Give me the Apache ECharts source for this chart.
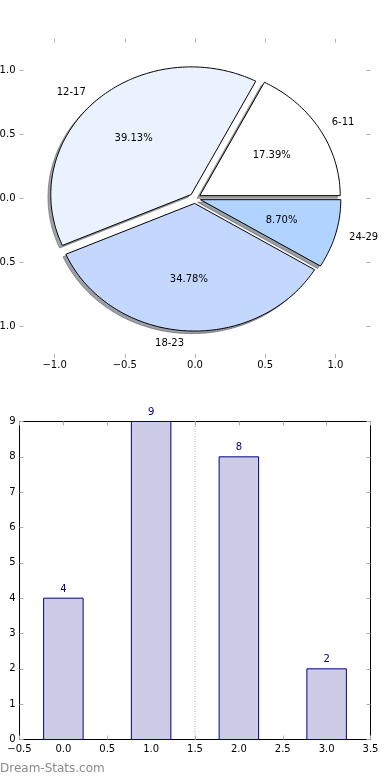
<!DOCTYPE html>
<html>
<head>
<meta charset="utf-8">
<script src="https://cdn.jsdelivr.net/npm/echarts@6/dist/echarts.min.js"></script>
<style>
html,body{margin:0;padding:0;background:#fff;}
#chart{width:390px;height:780px;}
</style>
</head>
<body>
<div id="chart"></div>
<script>
// ---- data ----
const ageGroups = ['6-11', '12-17', '18-23', '24-29'];
const counts = [4, 9, 8, 2];
const pieColors = ['#FFFFFF', '#EBF2FF', '#C4D8FF', '#B0D4FF'];
const barPositions = [0, 1, 2, 3];
const pieTickValues = [-1, -0.5, 0, 0.5, 1];
const dividerX = [1.5];

// ---- helpers ----
const FONT = '"DejaVu Sans", sans-serif';
const total = counts.reduce((a, b) => a + b, 0);
const explode = 0.04;
const fmt1 = v => (v < 0 ? '\u2212' : '') + Math.abs(v).toFixed(1);

function hexToRgb(h) {
  const n = parseInt(h.slice(1), 16);
  return [(n >> 16) & 255, (n >> 8) & 255, n & 255];
}

function renderWedge(params, api) {
  const i = api.value(0);
  let before = 0;
  for (let k = 0; k < i; k++) before += counts[k];
  const t1 = 2 * Math.PI * before / total;
  const t2 = 2 * Math.PI * (before + counts[i]) / total;
  const tm = (t1 + t2) / 2;
  const cx = explode * Math.cos(tm), cy = explode * Math.sin(tm);
  const pts = [], spts = [];
  const steps = Math.max(8, Math.ceil((t2 - t1) / (Math.PI / 180)));
  const ring = [[cx, cy]];
  for (let s = 0; s <= steps; s++) {
    const t = t1 + (t2 - t1) * s / steps;
    ring.push([cx + Math.cos(t), cy + Math.sin(t)]);
  }
  ring.forEach(p => {
    pts.push(api.coord(p));
    spts.push(api.coord([p[0] - 0.02, p[1] - 0.02]));
  });
  const rgb = hexToRgb(pieColors[i]).map(c => Math.round(c * 0.3));
  const shadowCol = 'rgba(' + rgb.join(',') + ',0.5)';
  const lx = cx + 1.1 * Math.cos(tm), ly = cy + 1.1 * Math.sin(tm);
  const px = cx + 0.6 * Math.cos(tm), py = cy + 0.6 * Math.sin(tm);
  const lp = api.coord([lx, ly]);
  const pp = api.coord([px, py]);
  return {
    type: 'group',
    children: [
      { type: 'polygon', z2: 1, shape: { points: spts },
        style: { fill: shadowCol, stroke: shadowCol, lineWidth: 1 } },
      { type: 'polygon', z2: 10, shape: { points: pts },
        style: { fill: pieColors[i], stroke: '#000', lineWidth: 1 } },
      { type: 'text', z2: 20, x: lp[0], y: lp[1],
        style: { text: ageGroups[i], fill: '#000', fontSize: 10, fontFamily: FONT,
                 align: lx > 0 ? 'left' : 'right', verticalAlign: 'middle' } },
      { type: 'text', z2: 20, x: pp[0], y: pp[1],
        style: { text: (100 * counts[i] / total).toFixed(2) + '%', fill: '#000', fontSize: 10,
                 fontFamily: FONT, align: 'center', verticalAlign: 'middle' } }
    ]
  };
}

function renderBar(params, api) {
  const x = api.value(0), y = api.value(1);
  const p1 = api.coord([x - 0.225, y]);
  const p2 = api.coord([x + 0.225, 0]);
  const top = api.coord([x, y]);
  return {
    type: 'group',
    children: [
      { type: 'rect', shape: { x: p1[0], y: p1[1], width: p2[0] - p1[0], height: p2[1] - p1[1] },
        style: { fill: '#CCCCE6', stroke: '#000080', lineWidth: 1 } },
      { type: 'text', x: top[0], y: top[1] - 9,
        style: { text: String(y), fill: '#000080', fontSize: 10, fontFamily: FONT,
                 align: 'center', verticalAlign: 'middle' } }
    ]
  };
}

const tickGrey = '#b0b0b0';
function pieAxis(pos, showLabel, margin) {
  return {
    type: 'value', gridIndex: 0, min: -1.25, max: 1.25, position: pos,
    axisLine: { show: false, onZero: false },
    splitLine: { show: false },
    axisTick: { show: true, inside: true, length: 4, customValues: pieTickValues,
                lineStyle: { color: tickGrey, width: 1 } },
    axisLabel: { show: showLabel, customValues: pieTickValues, formatter: fmt1,
                 color: '#000', fontSize: 10, fontFamily: FONT, margin: margin }
  };
}
function barXAxis(pos, showLabel) {
  return {
    type: 'value', gridIndex: 1, min: -0.5, max: 3.5, interval: 0.5, position: pos,
    axisLine: { show: true, onZero: false, lineStyle: { color: '#000', width: 1 } },
    splitLine: { show: false },
    axisTick: { show: true, inside: true, length: 4, lineStyle: { color: tickGrey, width: 1 } },
    axisLabel: { show: showLabel, formatter: fmt1, color: '#000', fontSize: 10,
                 fontFamily: FONT, margin: 5, showMinLabel: true, showMaxLabel: true }
  };
}
function barYAxis(pos, showLabel) {
  return {
    type: 'value', gridIndex: 1, min: 0, max: 9, interval: 1, position: pos,
    axisLine: { show: true, onZero: false, lineStyle: { color: '#000', width: 1 } },
    splitLine: { show: false },
    axisTick: { show: true, inside: true, length: 4, lineStyle: { color: tickGrey, width: 1 } },
    axisLabel: { show: showLabel, color: '#000', fontSize: 10, fontFamily: FONT, margin: 4,
                 showMinLabel: true, showMaxLabel: true }
  };
}

const chart = echarts.init(document.getElementById('chart'), null, { renderer: 'canvas' });
chart.setOption({
  animation: false,
  backgroundColor: '#fff',
  grid: [
    { left: 19.5, top: 38.7, width: 351, height: 319.2, containLabel: false, outerBoundsMode: 'none' },
    { left: 19.5, top: 421.5, width: 351, height: 318, containLabel: false, outerBoundsMode: 'none' }
  ],
  xAxis: [
    pieAxis('bottom', true, 3),
    pieAxis('top', false, 3),
    barXAxis('bottom', true),
    barXAxis('top', false)
  ],
  yAxis: [
    pieAxis('left', true, 4),
    pieAxis('right', false, 4),
    barYAxis('left', true),
    barYAxis('right', false)
  ],
  series: [
    {
      type: 'custom', coordinateSystem: 'cartesian2d', xAxisIndex: 0, yAxisIndex: 0,
      data: counts.map((c, i) => [i, 0]),
      renderItem: renderWedge, silent: true
    },
    {
      type: 'line', xAxisIndex: 2, yAxisIndex: 2, symbol: 'none', silent: true,
      data: [[dividerX[0], 0], [dividerX[0], 9]],
      lineStyle: { color: '#a8a8a8', width: 1, type: [1, 1.5] }
    },
    {
      type: 'custom', coordinateSystem: 'cartesian2d', xAxisIndex: 2, yAxisIndex: 2,
      data: barPositions.map((x, i) => [x, counts[i]]),
      renderItem: renderBar, silent: true
    }
  ],
  graphic: [
    { type: 'text', left: 0, top: 763,
      style: { text: 'Dream-Stats.com', fill: '#8a8a8a', fontSize: 12, fontFamily: FONT } }
  ]
});
</script>
</body>
</html>
